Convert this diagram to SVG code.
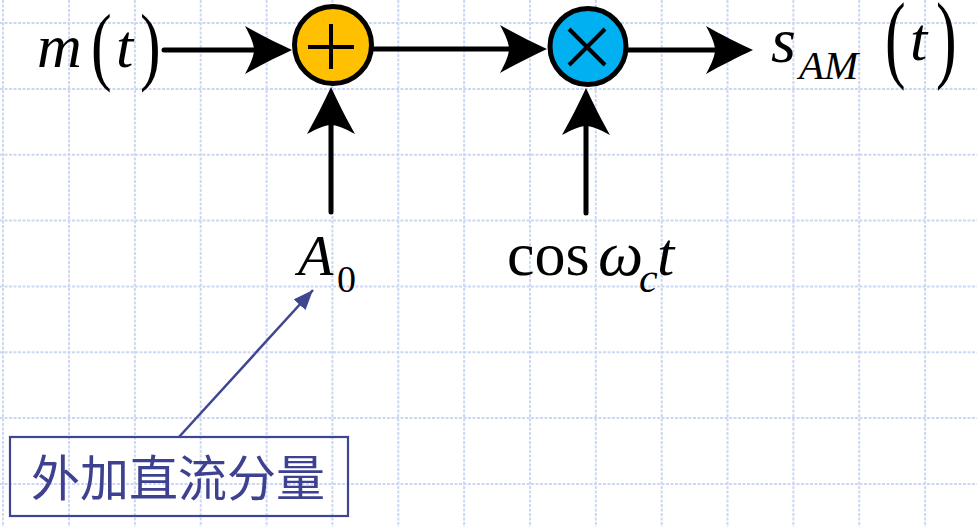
<svg xmlns="http://www.w3.org/2000/svg" width="977" height="527" viewBox="0 0 977 527">
<style>
.grid line{stroke:#cbd7f3;stroke-width:2;stroke-dasharray:3 1.5}
.conn{stroke:#000;stroke-width:5;fill:none;stroke-linecap:round}
.node{stroke:#000;stroke-width:5}
.sym{stroke:#000;stroke-width:4;fill:none}
.m{font-family:"Liberation Serif","Times New Roman",serif;fill:#000}
.i{font-style:italic}
.note{fill:none;stroke:#3f4591;stroke-width:2.2}
.cn{font-family:"Noto Sans CJK SC","Noto Sans",sans-serif;fill:#3e4190;font-size:49px}
</style>
<defs>
<path id="head" d="M0,0 C-15,-7 -33,-16 -47,-24 C-41,-13 -38,-5 -38,0 C-38,5 -41,13 -47,24 C-33,16 -15,7 0,0 Z" fill="#000"/>
<marker id="ptr" viewBox="0 0 10 8" refX="10" refY="4" markerWidth="20" markerHeight="16" markerUnits="userSpaceOnUse" orient="auto"><path d="M0,0 L10,4 L0,8 Z" fill="#3f4591"/></marker>
</defs>
<rect width="977" height="527" fill="#fff"/>
<g class="grid">
<line x1="3" y1="0" x2="3" y2="527"/><line x1="69" y1="0" x2="69" y2="527"/><line x1="134.9" y1="0" x2="134.9" y2="527"/><line x1="200.7" y1="0" x2="200.7" y2="527"/><line x1="266.6" y1="0" x2="266.6" y2="527"/><line x1="332.4" y1="0" x2="332.4" y2="527"/><line x1="398.3" y1="0" x2="398.3" y2="527"/><line x1="464.1" y1="0" x2="464.1" y2="527"/><line x1="530" y1="0" x2="530" y2="527"/><line x1="595.8" y1="0" x2="595.8" y2="527"/><line x1="661.7" y1="0" x2="661.7" y2="527"/><line x1="727.5" y1="0" x2="727.5" y2="527"/><line x1="793.4" y1="0" x2="793.4" y2="527"/><line x1="859.2" y1="0" x2="859.2" y2="527"/><line x1="925.1" y1="0" x2="925.1" y2="527"/>
<line x1="0" y1="23" x2="977" y2="23"/><line x1="0" y1="88.9" x2="977" y2="88.9"/><line x1="0" y1="154.7" x2="977" y2="154.7"/><line x1="0" y1="220.6" x2="977" y2="220.6"/><line x1="0" y1="286.4" x2="977" y2="286.4"/><line x1="0" y1="352.3" x2="977" y2="352.3"/><line x1="0" y1="418.1" x2="977" y2="418.1"/><line x1="0" y1="484" x2="977" y2="484"/>
</g>
<g id="connectors">
<line class="conn" x1="164" y1="50" x2="258" y2="50"/>
<use href="#head" transform="translate(292,50)"/>
<line class="conn" x1="374" y1="49" x2="512" y2="49"/>
<use href="#head" transform="translate(547,49)"/>
<line class="conn" x1="628" y1="50" x2="718" y2="50"/>
<use href="#head" transform="translate(753,50)"/>
<line class="conn" x1="331" y1="212" x2="331" y2="122"/>
<use href="#head" transform="translate(331,87) rotate(-90)"/>
<line class="conn" x1="586" y1="213" x2="586" y2="123"/>
<use href="#head" transform="translate(586,88) rotate(-90)"/>
<line x1="179" y1="437" x2="313" y2="290" stroke="#3f4591" stroke-width="2.5" marker-end="url(#ptr)"/>
</g>
<g id="adder">
<circle class="node" cx="333" cy="45" r="38.5" fill="#FFC000"/>
<path class="sym" d="M308,47 H354 M331,24 V69"/>
</g>
<g id="multiplier">
<circle class="node" cx="588" cy="46.5" r="38" fill="#00B0F0"/>
<path class="sym" d="M569,29 L605,65 M605,29 L569,65"/>
</g>
<g id="input" class="m">
<text class="i" x="37" y="67" font-size="62">m</text>
<text transform="translate(91,73.5) scale(1,1.41)" font-size="62">(</text>
<text class="i" x="116" y="67" font-size="62">t</text>
<text transform="translate(140,73.5) scale(1,1.41)" font-size="62">)</text>
</g>
<g id="output" class="m">
<text class="i" x="771" y="62" font-size="64">s</text>
<text class="i" x="799" y="79" font-size="41">AM</text>
<text transform="translate(885,69.5) scale(1,1.58)" font-size="62">(</text>
<text class="i" x="910" y="60" font-size="62">t</text>
<text transform="translate(936,69.5) scale(1,1.58)" font-size="62">)</text>
</g>
<g id="dc" class="m">
<text class="i" x="298" y="275" font-size="58">A</text>
<text x="337" y="292" font-size="38">0</text>
</g>
<g id="carrier" class="m">
<text x="507" y="275" font-size="62">cos</text>
<text class="i" x="598" y="275" font-size="64">ω</text>
<text class="i" x="639" y="292" font-size="42">c</text>
<text class="i" x="657" y="275" font-size="62">t</text>
</g>
<g id="callout">
<rect class="note" x="10" y="437" width="338" height="79"/>
<text class="cn" x="178" y="496" text-anchor="middle">外加直流分量</text>
</g>
</svg>
